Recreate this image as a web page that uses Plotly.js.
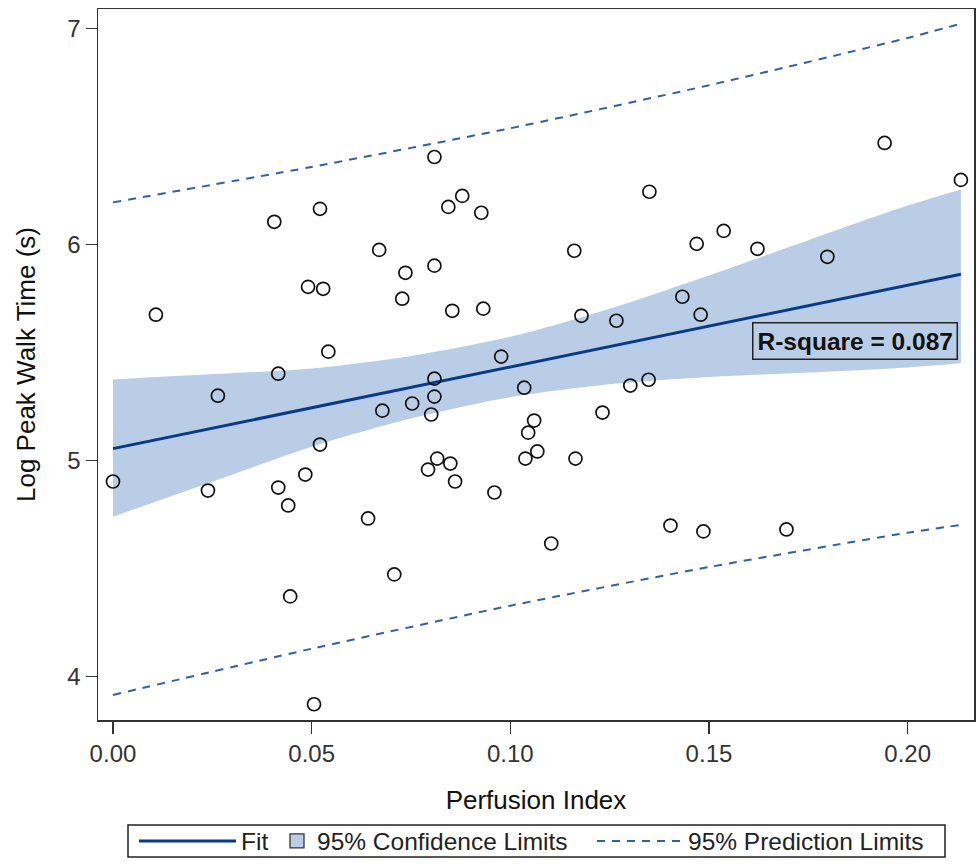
<!DOCTYPE html>
<html>
<head>
<meta charset="utf-8">
<script src="https://cdn.plot.ly/plotly-3.0.1.min.js"></script>
<style>
  html, body { margin: 0; padding: 0; background: #fff; }
  #chart { width: 980px; height: 867px; }
</style>
</head>
<body>
<div id="chart"></div>
<script>
// Observed points
const perfusionIndex = [
  0.0000, 0.0108, 0.0239, 0.0264, 0.0406, 0.0416, 0.0416, 0.0441, 0.0446, 0.0484,
  0.0491, 0.0506, 0.0521, 0.0529, 0.0521, 0.0542, 0.0642, 0.0670, 0.0678, 0.0708,
  0.0728, 0.0736, 0.0753, 0.0793, 0.0801, 0.0809, 0.0809, 0.0809, 0.0809, 0.0816,
  0.0844, 0.0849, 0.0854, 0.0861, 0.0879, 0.0927, 0.0932, 0.0960, 0.0977, 0.1035,
  0.1038, 0.1045, 0.1060, 0.1068, 0.1103, 0.1161, 0.1164, 0.1179, 0.1267, 0.1232,
  0.1302, 0.1348, 0.1350, 0.1403, 0.1433, 0.1469, 0.1479, 0.1486, 0.1537, 0.1622,
  0.1695, 0.1798, 0.1942, 0.2134
];
const logPeakWalkTime = [
  4.903, 5.675, 4.861, 5.300, 6.105, 5.402, 4.875, 4.792, 4.371, 4.935,
  5.804, 3.872, 6.165, 5.795, 5.074, 5.504, 4.732, 5.975, 5.231, 4.473,
  5.749, 5.869, 5.264, 4.958, 5.213, 5.902, 5.379, 5.296, 6.405, 5.009,
  6.174, 4.986, 5.693, 4.903, 6.225, 6.147, 5.703, 4.852, 5.481, 5.337,
  5.009, 5.129, 5.185, 5.042, 4.616, 5.971, 5.009, 5.670, 5.647, 5.222,
  5.347, 5.374, 6.244, 4.699, 5.758, 6.003, 5.675, 4.672, 6.063, 5.980,
  4.681, 5.943, 6.470, 6.299
];

// Fit line
const fitX = [0.0, 0.2134];
const fitY = [5.055, 5.862];

// 95% confidence band
const bandX     = [0.0,   0.025, 0.05,  0.075, 0.10,  0.125, 0.15,  0.175, 0.20,  0.2134];
const bandUpper = [5.375, 5.400, 5.426, 5.484, 5.573, 5.703, 5.857, 6.020, 6.180, 6.255];
const bandLower = [4.740, 4.902, 5.064, 5.194, 5.293, 5.353, 5.387, 5.407, 5.431, 5.450];

// 95% prediction limits
const predX     = [0.0,   0.05,  0.10,  0.15,  0.20,  0.2134];
const predUpper = [6.195, 6.359, 6.538, 6.737, 6.956, 7.022];
const predLower = [3.915, 4.129, 4.328, 4.507, 4.666, 4.702];

const rSquareText = "R-square = 0.087";

const FONT = "'Liberation Sans', Arial, sans-serif";
const FIT_COLOR = "#08398a";
const BAND_COLOR = "#b9cee6";
const PRED_COLOR = "#2f60a9";
const DASH = "8px,7px";

const traces = [
  {
    x: bandX, y: bandLower, type: "scatter", mode: "lines",
    line: { width: 0, color: BAND_COLOR, shape: "spline", smoothing: 0.8 },
    showlegend: false, hoverinfo: "skip"
  },
  {
    x: bandX, y: bandUpper, type: "scatter", mode: "lines",
    fill: "tonexty", fillcolor: BAND_COLOR,
    line: { width: 0, color: BAND_COLOR, shape: "spline", smoothing: 0.8 },
    showlegend: false, hoverinfo: "skip"
  },
  {
    x: fitX, y: fitY, type: "scatter", mode: "lines",
    line: { color: FIT_COLOR, width: 3 }, name: "Fit", legend: "legend"
  },
  {
    x: [null], y: [null], type: "scatter", mode: "markers",
    marker: { symbol: "square", size: 14, color: BAND_COLOR, line: { color: "#333", width: 1.3 } },
    name: "95% Confidence Limits", legend: "legend2"
  },
  {
    x: predX, y: predUpper, type: "scatter", mode: "lines",
    line: { color: PRED_COLOR, width: 2, dash: DASH, shape: "spline", smoothing: 0.6 },
    name: "95% Prediction Limits", legendgroup: "pred", legend: "legend3"
  },
  {
    x: predX, y: predLower, type: "scatter", mode: "lines",
    line: { color: PRED_COLOR, width: 2, dash: DASH, shape: "spline", smoothing: 0.6 },
    showlegend: false, legendgroup: "pred", legend: "legend3"
  },
  {
    x: perfusionIndex, y: logPeakWalkTime, type: "scatter", mode: "markers",
    marker: { symbol: "circle-open", size: 13, color: "#111", line: { width: 1.7, color: "#111" } },
    showlegend: false
  }
];

function px2paperX(px) { return (px - 98) / 876; }
function px2paperY(py) { return (720 - py) / 711; }

const legendBase = {
  orientation: "h",
  yanchor: "middle",
  y: px2paperY(841),
  xanchor: "left",
  borderwidth: 0,
  bgcolor: "rgba(0,0,0,0)",
  font: { size: 24.5, color: "#222", family: FONT },
  itemclick: false, itemdoubleclick: false
};

const layout = {
  width: 980, height: 867,
  margin: { l: 98, r: 6, t: 9, b: 147, autoexpand: false },
  paper_bgcolor: "#fff", plot_bgcolor: "#fff",
  font: { family: FONT, color: "#222", size: 24 },
  showlegend: true,
  xaxis: {
    range: [-0.00377, 0.2167],
    tickvals: [0, 0.05, 0.1, 0.15, 0.2],
    ticktext: ["0.00", "0.05", "0.10", "0.15", "0.20"],
    ticks: "outside", ticklen: 12, tickwidth: 1.5, tickcolor: "#333",
    showline: true, linecolor: "#333", linewidth: 1.5, mirror: true,
    showgrid: false, zeroline: false,
    tickfont: { size: 24, color: "#333" },
    title: { text: "Perfusion Index", font: { size: 26, color: "#111" }, standoff: 24 },
    automargin: false
  },
  yaxis: {
    range: [3.799, 7.09],
    tickvals: [4, 5, 6, 7],
    ticks: "outside", ticklen: 11, tickwidth: 1.5, tickcolor: "#333",
    showline: true, linecolor: "#333", linewidth: 1.5, mirror: true,
    showgrid: false, zeroline: false,
    tickfont: { size: 24, color: "#333" },
    title: { text: "Log Peak Walk Time (s)", font: { size: 26, color: "#111" }, standoff: 24 },
    automargin: false
  },
  legend:  Object.assign({}, legendBase, { x: px2paperX(134), itemwidth: 97 }),
  legend2: Object.assign({}, legendBase, { x: px2paperX(277), itemwidth: 30 }),
  legend3: Object.assign({}, legendBase, { x: px2paperX(592), itemwidth: 86 }),
  shapes: [{
    type: "rect", xref: "paper", yref: "paper",
    x0: px2paperX(128), x1: px2paperX(945),
    y0: px2paperY(825), y1: px2paperY(857),
    line: { color: "#222", width: 1.5 }, fillcolor: "rgba(0,0,0,0)"
  }],
  annotations: [{
    xref: "paper", yref: "y",
    x: 0.9817, y: 5.551, xanchor: "right", yanchor: "middle",
    text: "<b>" + rSquareText + "</b>",
    showarrow: false,
    font: { size: 24.5, color: "#111", family: FONT },
    bordercolor: "#222", borderwidth: 1.5, borderpad: 4,
    bgcolor: "rgba(0,0,0,0)"
  }]
};

Plotly.newPlot("chart", traces, layout, { displayModeBar: false, staticPlot: true });
</script>
</body>
</html>
